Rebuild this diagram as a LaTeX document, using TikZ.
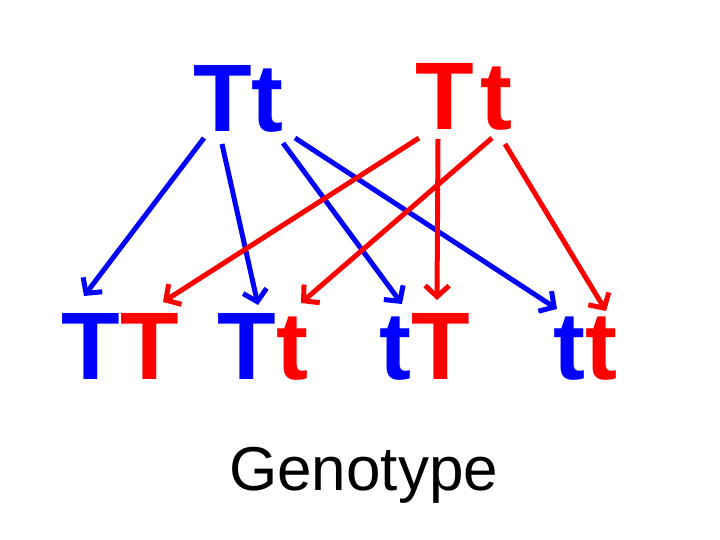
\documentclass[tikz,border=0pt]{standalone}
\usepackage{fontspec}
\setmainfont{Liberation Sans}
\usetikzlibrary{arrows.meta}
\tikzset{
  big/.style={anchor=base west, inner sep=0pt, font=\fontsize{96}{96}\selectfont\bfseries},
  lab/.style={anchor=base west, inner sep=0pt, font=\fontsize{62}{62}\selectfont},
  con/.style={line width=5pt, -{Straight Barb[length=11pt,width=24pt]}},
}
\begin{document}
\begin{tikzpicture}[x=1pt,y=-1pt]
\useasboundingbox (0,0) rectangle (720,540);
% parents
\node[big,text=blue] (pB1) at (193,132) {T};
\node[big,text=blue] (pB2) at (251,132) {t};
\node[big,text=red]  (pR1) at (415,130) {T};
\node[big,text=red]  (pR2) at (480,130) {t};
% offspring
\node[big,text=blue] (o1a) at (61,379) {T};
\node[big,text=red]  (o1b) at (120,379) {T};
\node[big,text=blue] (o2a) at (217,379) {T};
\node[big,text=red]  (o2b) at (276,379) {t};
\node[big,text=blue] (o3a) at (379,379) {t};
\node[big,text=red]  (o3b) at (411,379) {T};
\node[big,text=blue] (o4a) at (553,379) {t};
\node[big,text=red]  (o4b) at (585,379) {t};
\node[lab] (geno) at (229,490) {Genotype};
% connector ends
\coordinate (s1) at (204,138); \coordinate (e1) at (84,296);
\coordinate (s2) at (222,144); \coordinate (e2) at (258,305);
\coordinate (s3) at (283,143); \coordinate (e3) at (402,304);
\coordinate (s4) at (295,138); \coordinate (e4) at (557,309);
\coordinate (s5) at (419,138); \coordinate (e5) at (163,302);
\coordinate (s6) at (438,139); \coordinate (e6) at (437,300);
\coordinate (s7) at (492,138); \coordinate (e7) at (301,303);
\coordinate (s8) at (505,144); \coordinate (e8) at (606,311);
\draw[con,blue] (s1) -- (e1);
\draw[con,blue] (s2) -- (e2);
\draw[con,blue] (s3) -- (e3);
\draw[con,blue] (s4) -- (e4);
\draw[con,red] (s5) -- (e5);
\draw[con,red] (s6) -- (e6);
\draw[con,red] (s7) -- (e7);
\draw[con,red] (s8) -- (e8);
\end{tikzpicture}
\end{document}
